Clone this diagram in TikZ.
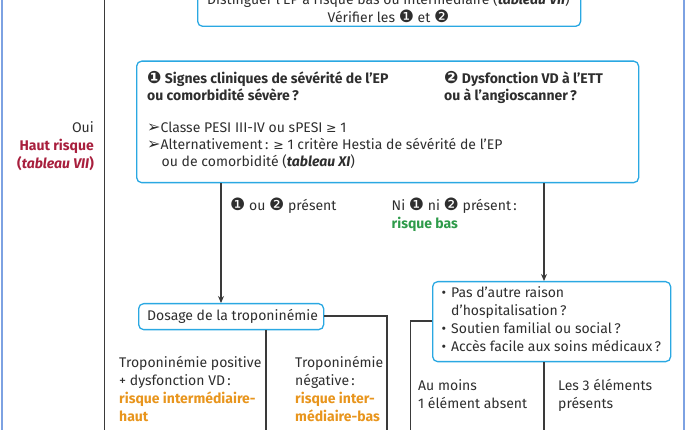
\documentclass[tikz,border=0pt]{standalone}
\usepackage{fontspec}
\setmainfont{Fira Sans}
\newfontfamily\dvfont{DejaVu Sans}
\usetikzlibrary{arrows.meta}
\definecolor{boxblue}{HTML}{2AA8E2}
\definecolor{linegray}{HTML}{3A3A3A}
\definecolor{textgray}{HTML}{2E2E2E}
\definecolor{hautred}{HTML}{A81F3D}
\definecolor{midorange}{HTML}{E8951D}
\definecolor{basgreen}{HTML}{2E9B4A}
\definecolor{borderblue}{HTML}{7DA2E2}
\newcommand{\mainsize}{\fontsize{14}{16}\selectfont}
\newcommand{\numA}{{\dvfont\fontsize{17}{12}\selectfont\char"2776}}
\newcommand{\numB}{{\dvfont\fontsize{17}{12}\selectfont\char"2777}}
\newcommand{\arrhd}{{\dvfont\fontsize{16}{12}\selectfont\char"27A2}}
\newcommand{\geqsym}{{\dvfont\fontsize{12.5}{12}\selectfont\char"2265}}
\begin{document}
\begin{tikzpicture}[x=1pt,y=-1pt,
  box/.style={draw=boxblue, line width=1.3pt, rounded corners=5pt, minimum width=#1, inner sep=0pt},
  conn/.style={draw=linegray, line width=1.1pt},
  arr/.style={-{Stealth[length=7pt,width=6pt]}},
  txt/.style={anchor=base west, inner sep=0pt, text=textgray, font=\mainsize},
  txtr/.style={anchor=base east, inner sep=0pt, text=textgray, font=\mainsize},
  txtc/.style={anchor=base, inner sep=0pt, text=textgray, font=\mainsize},
  border/.style={draw=borderblue, line width=2pt}]
\useasboundingbox (0,0) rectangle (686,430);
% side borders
\coordinate (bl1) at (1.5,-5); \coordinate (bl2) at (1.5,435);
\coordinate (br1) at (684,-5); \coordinate (br2) at (684,435);
\draw[border] (bl1) -- (bl2);
\draw[border] (br1) -- (br2);
% left black line
\coordinate (lv1) at (104.5,-5); \coordinate (lv2) at (104.5,435);
\draw[conn] (lv1) -- (lv2);
% top box
\node[box=383pt, minimum height=60pt, anchor=south west] (top) at (197,27) {};
\node[txtc] (t1) at (388.5,4.5) {Distinguer l'EP à risque bas ou intermédiaire (\textbf{\textit{tableau VII}})};
\node[txtc] (t2) at (388.5,22.5) {Vérifier les \numA{} et \numB};
% criteria box
\node[box=502pt, minimum height=121.5pt, anchor=north west] (crit) at (136,60.5) {};
\node[txt] (c1) at (147,84) {\textbf{\numA{} Signes cliniques de sévérité de l'EP}};
\node[txt] (c2) at (147,101) {\textbf{ou comorbidité sévère\,?}};
\node[txt] (c3) at (444,84) {\textbf{\numB{} Dysfonction VD à l'ETT}};
\node[txt] (c4) at (444,101) {\textbf{ou à l'angioscanner\,?}};
\node[txt] (c5) at (147,133) {\arrhd Classe PESI III-IV ou sPESI \geqsym{} 1};
\node[txt] (c6) at (147,150) {\arrhd Alternativement\,: \geqsym{} 1 critère Hestia de sévérité de l'EP};
\node[txt] (c7) at (161.5,167) {ou de comorbidité (\textbf{\textit{tableau XI}})};
% left labels
\node[txtr] (oui) at (94,133) {Oui};
\node[txtr, text=hautred] (haut) at (94,151) {\textbf{Haut risque}};
\node[txtr, text=hautred] (tab) at (94,168.5) {\textbf{(\textit{tableau VII})}};
% branch labels
\node[txt] (l1) at (230,211) {\numA{} ou \numB{} présent};
\node[txt] (l2) at (391.5,211) {Ni \numA{} ni \numB{} présent\,:};
\node[txt, text=basgreen] (l3) at (391.5,228.5) {\textbf{risque bas}};
% dosage box
\node[box=185pt, minimum height=26pt, anchor=north west] (dos) at (138,303) {};
\node[txt] (d1) at (147,321) {Dosage de la troponinémie};
% bullet box
\node[box=238pt, minimum height=80pt, anchor=north west] (bul) at (432,281) {};
\node[txt] (b1) at (441.5,298) {•};
\node[txt] (b2) at (451,298) {Pas d'autre raison};
\node[txt] (b3) at (451,316) {d'hospitalisation\,?};
\node[txt] (b4) at (441.5,334) {•};
\node[txt] (b5) at (451,334) {Soutien familial ou social\,?};
\node[txt] (b6) at (441.5,352) {•};
\node[txt] (b7) at (451,352) {Accès facile aux soins médicaux\,?};
% arrows
\draw[conn,arr] (crit.south -| 221,0) -- (dos.north -| 221,0);
\draw[conn,arr] (crit.south -| 544,0) -- (bul.north -| 544,0);
% lower connectors
\coordinate (e1) at (266,435);
\coordinate (e2) at (387,316);
\coordinate (e3) at (387,435);
\coordinate (e4) at (410.5,321);
\coordinate (e5) at (410.5,435);
\coordinate (e6) at (544,435);
\draw[conn] (dos.south -| e1) -- (e1);
\draw[conn] (dos.east |- e2) -- (e2) -- (e3);
\draw[conn] (bul.west |- e4) -- (e4) -- (e5);
\draw[conn] (bul.south -| e6) -- (e6);
% outcome texts
\node[txt] (p1) at (119,368) {Troponinémie positive};
\node[txt] (p2) at (119,386) {+ dysfonction VD\,:};
\node[txt, text=midorange] (p3) at (119,404) {\textbf{risque intermédiaire-}};
\node[txt, text=midorange] (p4) at (119,422) {\textbf{haut}};
\node[txt] (n1) at (295,368) {Troponinémie};
\node[txt] (n2) at (295,386) {négative\,:};
\node[txt, text=midorange] (n3) at (295,404) {\textbf{risque inter-}};
\node[txt, text=midorange] (n4) at (295,422) {\textbf{médiaire-bas}};
\node[txt] (a1) at (418,391) {Au moins};
\node[txt] (a2) at (418,409) {1 élément absent};
\node[txt] (s1) at (558,391) {Les 3 éléments};
\node[txt] (s2) at (558,409) {présents};
\end{tikzpicture}
\end{document}
